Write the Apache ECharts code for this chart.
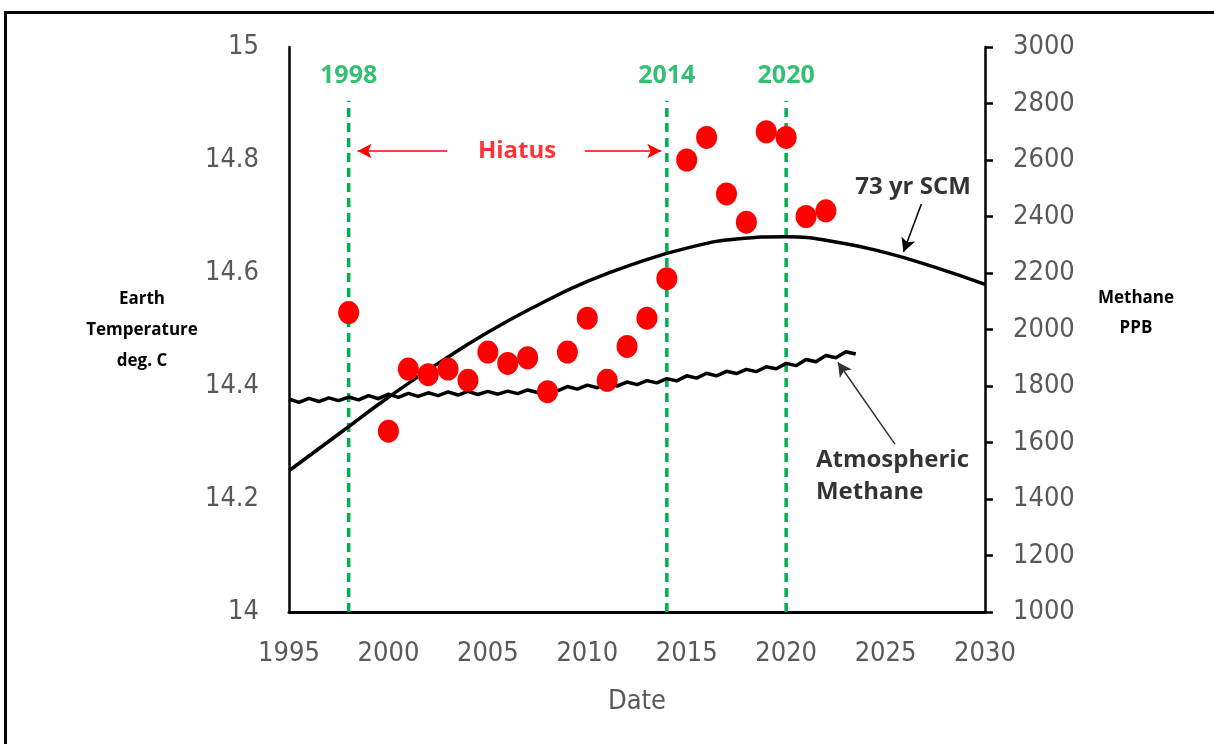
<!DOCTYPE html>
<html>
<head>
<meta charset="utf-8">
<script src="https://cdn.jsdelivr.net/npm/echarts@6/dist/echarts.min.js"></script>
<style>
html,body{margin:0;padding:0;background:#fff;}
#chart{width:1214px;height:744px;}
</style>
</head>
<body>
<div id="chart"></div>
<script>
// ---- data ----
const tempYears = [1998,2000,2001,2002,2003,2004,2005,2006,2007,2008,2009,2010,2011,2012,2013,2014,2015,2016,2017,2018,2019,2020,2021,2022];
const tempValues = [14.53,14.32,14.43,14.42,14.43,14.41,14.46,14.44,14.45,14.39,14.46,14.52,14.41,14.47,14.52,14.59,14.80,14.84,14.74,14.69,14.85,14.84,14.70,14.71];

const scmYears = [1995,1997.5,2000,2002.5,2005,2007.5,2010,2012.5,2015,2017.5,2020,2022.5,2025,2027.5,2030];
const scmValues = [14.25,14.315,14.38,14.44,14.495,14.543,14.585,14.618,14.644,14.66,14.664,14.655,14.636,14.61,14.58];

// semiannual methane readings, 1995.0, 1995.5, 1996.0 ... 2023.5
const methaneStartYear = 1995;
const methaneStep = 0.5;
const methaneValues = [
 1754,1742, 1756,1745, 1758,1748, 1761,1751, 1766,1755,
 1771,1760, 1774,1763, 1776,1766, 1779,1768, 1781,1770,
 1781,1771, 1782,1773, 1786,1777, 1792,1783, 1798,1789,
 1803,1794, 1809,1800, 1814,1805, 1819,1811, 1826,1818,
 1836,1828, 1845,1836, 1852,1844, 1859,1851, 1868,1861,
 1880,1872, 1894,1886, 1908,1900, 1921,1913
];

const markerYears = [1998, 2014, 2020];
const markerLabels = ['1998', '2014', '2020'];

const xTicks = [1995,2000,2005,2010,2015,2020,2025,2030];
const leftTicks = [14,14.2,14.4,14.6,14.8,15];
const rightTicks = [1000,1200,1400,1600,1800,2000,2200,2400,2600,2800,3000];

// ---- build ----
const chart = echarts.init(document.getElementById('chart'), null, {renderer:'canvas'});
const tickFont = '"DejaVu Sans Condensed","Liberation Sans Narrow","DejaVu Sans",sans-serif';
const boldFont = '"Open Sans","DejaVu Sans",sans-serif';
const grey = '#595959';
const green = '#00B050';
const red = '#FF0000';

const methaneData = methaneValues.map((v,i)=>[methaneStartYear + i*methaneStep, v]);
const markerTop = 14.905;

const series = [];

markerYears.forEach((yr, i) => {
  series.push({
    type:'line', yAxisIndex:0, silent:true, animation:false, z:2,
    symbol:'none',
    lineStyle:{color:green, width:3.5, type:[9,6]},
    data:[[yr,14],[yr,markerTop]]
  });
  series.push({
    type:'scatter', yAxisIndex:0, silent:true, animation:false,
    symbolSize:0,
    label:{show:true, position:'top', distance:12, formatter:markerLabels[i],
      color:green, fontFamily:boldFont, fontWeight:'bold', fontSize:25},
    data:[[yr,markerTop]]
  });
});

series.push({
  name:'73 yr SCM', type:'line', yAxisIndex:0, smooth:true, symbol:'none', animation:false, z:3,
  lineStyle:{color:'#000', width:3.5},
  data: scmYears.map((y,i)=>[y, scmValues[i]])
});

series.push({
  name:'Atmospheric Methane', type:'line', yAxisIndex:1, symbol:'none', animation:false, z:3,
  lineStyle:{color:'#000', width:3.5},
  data: methaneData
});

series.push({
  name:'Temperature', type:'scatter', yAxisIndex:0, animation:false, z:4,
  symbol:'circle', symbolSize:[21,23],
  itemStyle:{color:red, opacity:1},
  data: tempYears.map((y,i)=>[y, tempValues[i]])
});

// annotations (arrows + text)
series.push({
  type:'line', yAxisIndex:0, data:[], silent:true, animation:false,
  markLine:{
    silent:true, animation:false, label:{show:false},
    symbol:['none','arrow'], symbolSize:[11,14],
    data:[
      [{coord:[2002.95,14.816], lineStyle:{color:red,width:1.5,type:'solid'}, itemStyle:{color:red}},
       {coord:[1998.45,14.816]}],
      [{coord:[2009.88,14.816], lineStyle:{color:red,width:1.5,type:'solid'}, itemStyle:{color:red}},
       {coord:[2013.72,14.816]}],
      [{coord:[2026.8,14.722], lineStyle:{color:'#000',width:1.5,type:'solid'}, itemStyle:{color:'#000'}},
       {coord:[2025.9,14.637]}],
      [{coord:[2025.47,14.297], lineStyle:{color:'#333',width:1.5,type:'solid'}, itemStyle:{color:'#000'}},
       {coord:[2022.6,14.442]}]
    ]
  }
});

series.push({
  type:'scatter', yAxisIndex:0, silent:true, animation:false, symbolSize:0,
  data:[
    {value:[2006.47,14.816], label:{show:true, position:'inside', formatter:'Hiatus', color:red, fontSize:24, fontWeight:'bold', fontFamily:boldFont}},
    {value:[2026.38,14.752], label:{show:true, position:'inside', formatter:'73 yr SCM', color:'#000', fontSize:24, fontWeight:'bold', fontFamily:boldFont}},
    {value:[2021.5,14.24], label:{show:true, position:'right', distance:0, align:'left', formatter:'Atmospheric\nMethane', lineHeight:32, color:'#000', fontSize:24, fontWeight:'bold', fontFamily:boldFont}}
  ]
});

const option = {
  backgroundColor:'#fff',
  animation:false,
  grid:{left:289, right:229, top:47, bottom:132, containLabel:false},
  xAxis:{
    type:'value', min:1995, max:2030, interval:5,
    name:'Date', nameLocation:'middle', nameGap:76,
    nameTextStyle:{color:grey, fontSize:27, fontFamily:tickFont},
    axisLine:{show:true, onZero:false, lineStyle:{color:'#000', width:3}},
    axisTick:{show:false},
    splitLine:{show:false},
    axisLabel:{color:grey, fontSize:27, fontFamily:tickFont, margin:28,
      formatter:v=> xTicks.includes(v) ? String(v) : ''}
  },
  yAxis:[
    {
      type:'value', min:14, max:15, interval:0.2, position:'left',
      axisLine:{show:true, lineStyle:{color:'#000', width:2.5}},
      axisTick:{show:false},
      splitLine:{show:false},
      axisLabel:{color:grey, fontSize:27, fontFamily:tickFont, margin:30,
        formatter:v=>{ const t = leftTicks.find(x=>Math.abs(x-v)<1e-6); return t===undefined?'':String(t);} }
    },
    {
      type:'value', min:1000, max:3000, interval:200, position:'right',
      axisLine:{show:true, lineStyle:{color:'#000', width:2.5}},
      axisTick:{show:true, inside:false, length:8, lineStyle:{color:'#000', width:2.5}},
      splitLine:{show:false},
      axisLabel:{color:grey, fontSize:27, fontFamily:tickFont, margin:28,
        formatter:v=> rightTicks.includes(v) ? String(v) : ''}
    }
  ],
  graphic:[
    {type:'rect', shape:{x:5.5, y:12.5, width:1300, height:800}, style:{fill:null, stroke:'#000', lineWidth:3}, silent:true, z:-1},
    {type:'text', x:142, y:330, style:{text:'Earth\nTemperature\ndeg. C', align:'center', verticalAlign:'middle', lineHeight:31, font:'bold 17px "Open Sans", sans-serif', fill:'#000'}},
    {type:'text', x:1136, y:313, style:{text:'Methane\nPPB', align:'center', verticalAlign:'middle', lineHeight:30, font:'bold 17px "Open Sans", sans-serif', fill:'#000'}}
  ],
  series: series
};
chart.setOption(option);
</script>
</body>
</html>
